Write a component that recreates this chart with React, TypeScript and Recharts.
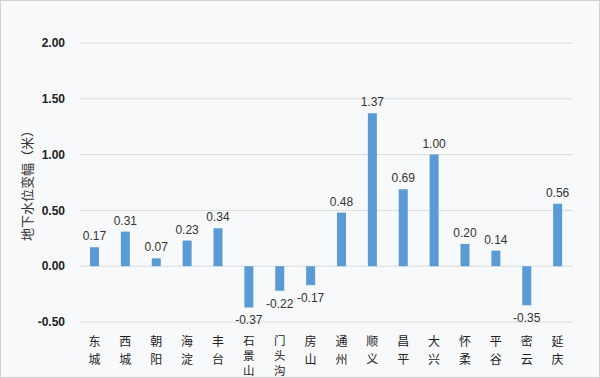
import { Bar, BarChart, CartesianGrid, LabelList, XAxis, YAxis } from "recharts";

const districts = ["东城", "西城", "朝阳", "海淀", "丰台", "石景山", "门头沟", "房山", "通州", "顺义", "昌平", "大兴", "怀柔", "平谷", "密云", "延庆"];
const changes = [0.17, 0.31, 0.07, 0.23, 0.34, -0.37, -0.22, -0.17, 0.48, 1.37, 0.69, 1.0, 0.2, 0.14, -0.35, 0.56];
const yTicks = [-0.5, 0, 0.5, 1, 1.5, 2];

const data = districts.map((name, i) => ({ name, value: changes[i] }));

const CategoryTick = ({ x, y, payload }: any) => {
  const chars = String(payload.value).split("");
  const long = chars.length > 2;
  const step = long ? 15 : 18;
  const fs = long ? 11.5 : 12;
  return (
    <g>
      {chars.map((c, i) => (
        <text key={i} x={x} y={y + (long ? 15 : 16) + i * step} textAnchor="middle" fontSize={fs} fill="#222" fontFamily="'Noto Sans CJK SC', sans-serif">
          {c}
        </text>
      ))}
    </g>
  );
};

const ValueLabel = ({ x, y, width, height, value }: any) => {
  const cx = x + width / 2;
  const neg = value < 0;
  const top = Math.min(y, y + height);
  const bottom = Math.max(y, y + height);
  return (
    <text x={cx} y={neg ? bottom + 17 : top - 7} textAnchor="middle" fontSize={12} fill="#333" fontFamily="'Liberation Sans', Arial, sans-serif">
      {value.toFixed(2)}
    </text>
  );
};

const App = () => {
  return (
    <div style={{ position: "absolute", left: 0, top: 0, width: 598, height: 376, background: "#f8f9fa", border: "1px solid #d0d0d0" }}>
      <BarChart width={598} height={376} data={data} margin={{ top: 42, right: 26, bottom: 0, left: 0 }}>
        <CartesianGrid vertical={false} stroke="#dcdcdc" />
        <XAxis dataKey="name" axisLine={false} tickLine={false} interval={0} tick={<CategoryTick />} height={55} />
        <YAxis
          domain={[-0.5, 2]}
          ticks={yTicks}
          width={78}
          axisLine={false}
          tickLine={false}
          tickMargin={8}
          tickFormatter={(v) => v.toFixed(2)}
          tick={{ fontSize: 12, fill: "#222", fontWeight: 700, fontFamily: "'Liberation Sans', Arial, sans-serif" }}
          label={{
            value: "地下水位变幅（米）",
            angle: -90,
            position: "insideLeft",
            dx: 21,
            dy: 0,
            style: { textAnchor: "middle", fontSize: 13, fill: "#333", fontFamily: "'Noto Sans CJK SC', sans-serif" },
          }}
        />
        <Bar dataKey="value" fill="#5b9bd5" barSize={9} isAnimationActive={false}>
          <LabelList dataKey="value" content={<ValueLabel />} />
        </Bar>
      </BarChart>
    </div>
  );
};

export default App;
